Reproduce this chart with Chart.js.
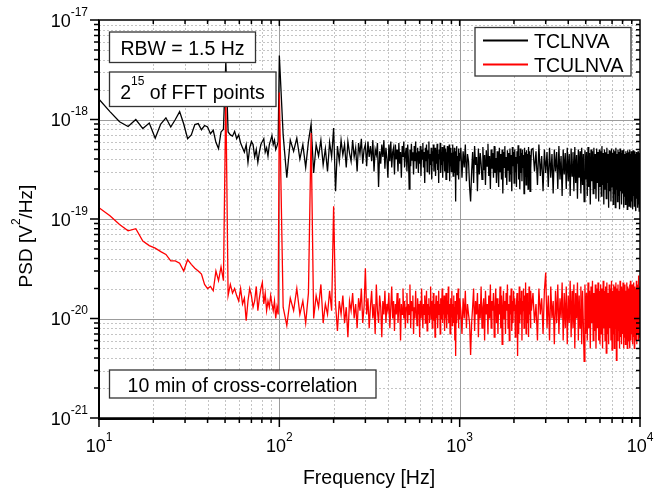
<!DOCTYPE html>
<html>
<head>
<meta charset="utf-8">
<script src="https://cdn.jsdelivr.net/npm/chart.js@4.4.1/dist/chart.umd.min.js"></script>
<style>
  html, body { margin: 0; padding: 0; background: #fff; }
  #wrap { width: 668px; height: 492px; }
</style>
</head>
<body>
<div id="wrap"><canvas id="psd" width="668" height="492"></canvas></div>
<script>
// ---------------------------------------------------------------
//  PSD of TCLNVA / TCULNVA
//  all PSD values are in units of 1e-21 V^2/Hz
// ---------------------------------------------------------------

// frequency bins: 10..100 Hz every 1.5 Hz, then decimated
const lowStartHz = 10,    lowStepHz = 1.5;
const midStartHz = 105,   midStepHz = 5;
const high1StartHz = 1015, high1StepHz = 15;
const high2StartHz = 2550, high2StepHz = 50;

// TCLNVA (black)
const tclnvaLow = [
  1600, 1200, 950, 850, 1000, 810, 920, 650, 900, 1040,
  840, 1000, 1200, 900, 640, 700, 890, 910, 790, 870,
  840, 720, 780, 590, 510, 750, 800, 3800, 750, 700,
  680, 760, 640, 700, 580, 520, 470, 560, 370, 520,
  600, 560, 420, 500, 370, 470, 560, 600, 640, 470,
  520, 430, 560, 620, 690, 560, 620, 500, 540, 600,
  4400
];
const tclnvaMid = [
  700, 260, 620, 480, 650, 400, 560, 330, 600, 900,
  290, 560, 430, 620, 350, 510, 300, 590, 420, 820,
  190, 540, 380, 620, 440, 560, 330, 600, 460, 380,
  620, 420, 520, 300, 580, 450, 640, 360, 500, 560,
  340, 600, 420, 540, 380, 620, 300, 500, 440, 580,
  210, 480, 360, 560, 420, 620, 320, 520, 400, 260,
  560, 380, 600, 330, 470, 520, 280, 560, 400, 500,
  300, 580, 360, 470, 260, 540, 420, 600, 330, 450,
  520, 300, 560, 400, 200, 500, 340, 570, 390, 470,
  280, 540, 380, 600, 320, 460, 520, 290, 480, 360,
  540, 270, 500, 400, 580, 330, 470, 230, 520, 380,
  560, 300, 490, 410, 600, 280, 450, 350, 520, 250,
  480, 380, 560, 300, 460, 520, 270, 490, 360, 570,
  310, 450, 230, 500, 400, 580, 290, 470, 350, 530,
  260, 480, 380, 550, 300, 440, 510, 250, 470, 360,
  540, 290, 450, 380, 560, 240, 480, 340, 520, 300,
  460, 390, 560, 270, 470, 340, 520, 290, 450, 150,
  480, 360, 540, 280, 430, 330, 510, 250, 460, 380
];
const tclnvaHigh1 = [
  520, 260, 480, 330, 560, 240, 450, 380, 210, 150,
  300, 470, 230, 540, 350, 420, 190, 510, 280, 460,
  360, 250, 530, 310, 440, 220, 490, 340, 570, 270,
  430, 200, 500, 320, 460, 260, 540, 290, 410, 230,
  480, 350, 210, 520, 300, 450, 250, 500, 180, 470,
  330, 540, 260, 420, 220, 490, 310, 460, 240, 510,
  280, 440, 190, 530, 340, 470, 230, 500, 300, 420,
  210, 480, 360, 550, 250, 430, 200, 510, 290, 460,
  240, 500, 330, 440, 180, 520, 270, 470, 220, 490,
  310, 450, 200, 530, 260, 480, 190, 440, 320, 500
];
const tclnvaHigh2 = [
  510, 300, 480, 220, 560, 270, 430, 190, 500, 290,
  470, 210, 520, 260, 450, 180, 500, 300, 470, 200,
  540, 250, 430, 170, 500, 280, 460, 200, 520, 240,
  450, 170, 510, 270, 470, 190, 530, 230, 440, 160,
  500, 260, 480, 180, 520, 220, 450, 150, 490, 250,
  470, 170, 530, 210, 460, 140, 500, 240, 480, 180,
  520, 200, 450, 160, 510, 230, 470, 150, 500, 210,
  480, 170, 540, 220, 460, 140, 500, 200, 470, 160,
  520, 230, 450, 130, 490, 190, 480, 150, 510, 210,
  460, 140, 500, 180, 480, 130, 520, 200, 450, 150,
  500, 170, 470, 125, 510, 190, 460, 140, 490, 180,
  470, 130, 500, 170, 450, 140, 480, 190, 460, 125,
  490, 160, 470, 135, 500, 180, 450, 130, 480, 150,
  460, 125, 490, 170, 470, 135, 480, 150, 450, 120,
  470, 160, 460, 130, 480, 140, 450, 120, 460, 130
];

// TCULNVA (red)
const tculnvaLow = [
  130, 108, 88, 76, 80, 60, 54, 51, 47, 44,
  38, 38, 36, 30, 39, 35, 32, 30, 28, 22,
  20, 21, 19, 30, 24, 33, 24, 1800, 17, 22,
  18, 20, 17, 15, 20, 14, 16, 9.5, 15, 20,
  17, 13, 15, 21, 12, 16, 20, 23, 14, 18,
  12, 15, 13, 17, 14, 12, 15, 10, 13, 11,
  1870
];
const tculnvaMid = [
  13, 8.5, 16, 12, 20, 11, 15, 9, 18, 730,
  10, 17, 13, 22, 9, 14, 11, 19, 12, 134,
  14, 7.5, 15, 11, 17, 9, 13, 6.5, 15, 12,
  18, 10, 14, 8, 16, 12, 20, 9, 13, 32,
  11, 16, 8, 13, 19, 10, 14, 7, 22, 12,
  9, 17, 13, 6.5, 15, 11, 19, 9, 14, 12,
  18, 8, 13, 21, 10, 15, 7.5, 14, 11, 18,
  9, 13, 16, 6, 14, 11, 20, 10, 15, 8,
  13, 18, 9, 14, 11, 22, 8, 15, 12, 17,
  7, 13, 10, 19, 12, 8.5, 16, 11, 14, 6.5,
  15, 10, 20, 12, 8, 14, 11, 17, 9, 13,
  19, 7.5, 14, 11, 16, 9, 13, 21, 10, 15,
  8, 12, 18, 9.5, 14, 6.5, 13, 17, 10, 15,
  8, 12, 19, 11, 14, 7, 16, 10, 13, 20,
  9, 14, 11, 17, 7.5, 13, 10, 18, 12, 8,
  15, 11, 21, 9, 14, 12, 7, 16, 10, 13,
  19, 8.5, 14, 11, 17, 9, 13, 6, 15, 4.2,
  12, 18, 9, 14, 11, 20, 8, 13, 10, 16
];
const tculnvaHigh1 = [
  12, 7, 16, 10, 19, 8, 14, 11, 9, 4.3,
  9, 13, 20, 7.5, 15, 11, 18, 6.5, 14, 10,
  21, 8, 13, 16, 6, 19, 11, 14, 7, 17,
  10, 22, 8, 15, 12, 18, 6.5, 13, 20, 9,
  16, 7, 14, 11, 21, 8, 17, 5.5, 13, 19,
  10, 15, 7, 18, 12, 22, 8, 14, 6, 17,
  11, 20, 7.5, 15, 9, 19, 12, 16, 6.5, 13,
  14, 18, 4.2, 15, 7, 21, 9, 16, 11, 19,
  6, 15, 12, 20, 8, 17, 10, 23, 7, 14,
  18, 9, 13, 6.5, 21, 11, 16, 8, 19, 12
];
const tculnvaHigh2 = [
  18, 9, 14, 6, 20, 11, 16, 7, 19, 29,
  8, 17, 6, 21, 10, 15, 5.5, 19, 9, 22,
  7, 16, 10, 23, 6, 18, 8, 21, 5.5, 17,
  9, 24, 6.5, 19, 8, 22, 5, 18, 10, 23,
  6, 17, 8, 21, 5.5, 19, 9, 3.7, 22, 7,
  18, 6, 23, 8, 19, 5, 21, 9, 24, 6,
  18, 7.5, 22, 5, 20, 8, 23, 6, 19, 5.5,
  22, 7, 20, 5, 24, 8, 19, 6, 21, 4.5,
  23, 7, 18, 5.5, 22, 8, 20, 6, 24, 4.8,
  19, 7, 22, 5, 21, 8, 23, 3.8, 20, 6,
  22, 7.5, 19, 5, 24, 6.5, 21, 5.5, 20, 7,
  23, 5, 20, 6.5, 22, 5.5, 19, 7, 23, 5,
  21, 6, 20, 7.5, 22, 5, 24, 6, 19, 7,
  22, 5.5, 20, 6.5, 23, 5, 21, 7, 20, 6,
  24, 5.5, 21, 7, 22, 6, 27, 6.5, 21, 8
];

// axes
const xTickExps = [1, 2, 3, 4];
const yTickExps = [-21, -20, -19, -18, -17];
const seriesNames = ['TCLNVA', 'TCULNVA'];
const seriesColors = ['#000000', '#ff0000'];
const notes = ['RBW = 1.5 Hz', '10 min of cross-correlation'];

// ---------------------------------------------------------------

const FONT = '"Liberation Sans", Arial, Helvetica, sans-serif';

function bins(start, step, vals) {
  return vals.map((v, i) => ({ x: start + i * step, y: v * 1e-21 }));
}

const tclnvaPts = [
  ...bins(lowStartHz, lowStepHz, tclnvaLow),
  ...bins(midStartHz, midStepHz, tclnvaMid),
  ...bins(high1StartHz, high1StepHz, tclnvaHigh1),
  ...bins(high2StartHz, high2StepHz, tclnvaHigh2)
];
const tculnvaPts = [
  ...bins(lowStartHz, lowStepHz, tculnvaLow),
  ...bins(midStartHz, midStepHz, tculnvaMid),
  ...bins(high1StartHz, high1StepHz, tculnvaHigh1),
  ...bins(high2StartHz, high2StepHz, tculnvaHigh2)
];

// draws a list of text runs, some raised (superscripts)
function richText(ctx, runs, x, y, align) {
  let w = 0;
  runs.forEach(r => {
    ctx.font = r.size + 'px ' + FONT;
    r.w = ctx.measureText(r.t).width;
    w += r.w;
  });
  let cx = align === 'center' ? x - w / 2 : align === 'right' ? x - w : x;
  ctx.textAlign = 'left';
  ctx.textBaseline = 'alphabetic';
  runs.forEach(r => {
    ctx.font = r.size + 'px ' + FONT;
    ctx.fillText(r.t, cx, y - (r.rise || 0));
    cx += r.w;
  });
}

function pow10(base, exp, size) {
  return [{ t: base, size: size }, { t: String(exp), size: 12, rise: 11 }];
}

function noteBox(ctx, x0, y0, x1, y1) {
  ctx.fillStyle = '#fff';
  ctx.fillRect(x0, y0, x1 - x0, y1 - y0);
  ctx.strokeStyle = '#333';
  ctx.lineWidth = 1.3;
  ctx.strokeRect(x0, y0, x1 - x0, y1 - y0);
}

const framePlugin = {
  id: 'frame',
  beforeDatasetsDraw(chart) {
    const { ctx, chartArea: a, scales: { x, y } } = chart;
    ctx.save();
    ctx.lineWidth = 1;
    // minor grid
    ctx.strokeStyle = '#c4c4c4';
    ctx.setLineDash([2, 2]);
    ctx.beginPath();
    for (let d = 1; d < 4; d++) {
      for (let m = 2; m < 10; m++) {
        const px = Math.round(x.getPixelForValue(m * Math.pow(10, d))) + 0.5;
        ctx.moveTo(px, a.top); ctx.lineTo(px, a.bottom);
      }
    }
    for (let d = -21; d < -17; d++) {
      for (let m = 2; m < 10; m++) {
        const py = Math.round(y.getPixelForValue(m * Math.pow(10, d))) + 0.5;
        ctx.moveTo(a.left, py); ctx.lineTo(a.right, py);
      }
    }
    ctx.stroke();
    // major grid
    ctx.setLineDash([]);
    ctx.strokeStyle = '#9c9c9c';
    ctx.beginPath();
    xTickExps.slice(1, -1).forEach(e => {
      const px = Math.round(x.getPixelForValue(Math.pow(10, e))) + 0.5;
      ctx.moveTo(px, a.top); ctx.lineTo(px, a.bottom);
    });
    yTickExps.slice(1, -1).forEach(e => {
      const py = Math.round(y.getPixelForValue(Math.pow(10, e))) + 0.5;
      ctx.moveTo(a.left, py); ctx.lineTo(a.right, py);
    });
    ctx.stroke();
    ctx.restore();
  },
  afterDatasetsDraw(chart) {
    const { ctx, chartArea: a, scales: { x, y } } = chart;
    ctx.save();

    // axis frame
    ctx.strokeStyle = '#000';
    ctx.lineWidth = 1.5;
    ctx.strokeRect(a.left, a.top, a.right - a.left, a.bottom - a.top);
    ctx.lineWidth = 2;
    ctx.beginPath();
    ctx.moveTo(a.left, a.top); ctx.lineTo(a.left, a.bottom + 1); ctx.lineTo(a.right + 1, a.bottom);
    ctx.stroke();

    // ticks
    ctx.lineWidth = 1.5;
    ctx.beginPath();
    for (let d = 1; d < 4; d++) {
      for (let m = 1; m < 10; m++) {
        const px = x.getPixelForValue(m * Math.pow(10, d));
        const len = m === 1 ? 9 : 5;
        ctx.moveTo(px, a.bottom); ctx.lineTo(px, a.bottom + len);
        ctx.moveTo(px, a.top); ctx.lineTo(px, a.top + (m === 1 ? 6 : 4));
      }
    }
    const px4 = x.getPixelForValue(1e4);
    ctx.moveTo(px4, a.bottom); ctx.lineTo(px4, a.bottom + 9);
    for (let d = -21; d < -17; d++) {
      for (let m = 1; m < 10; m++) {
        const py = y.getPixelForValue(m * Math.pow(10, d));
        const len = m === 1 ? 9 : 5;
        ctx.moveTo(a.left, py); ctx.lineTo(a.left - len, py);
        ctx.moveTo(a.right, py); ctx.lineTo(a.right - (m === 1 ? 6 : 4), py);
      }
    }
    const py17 = y.getPixelForValue(1e-17);
    ctx.moveTo(a.left, py17); ctx.lineTo(a.left - 9, py17);
    ctx.stroke();

    // tick labels
    ctx.fillStyle = '#000';
    xTickExps.forEach(e => {
      richText(ctx, pow10('10', e, 18), x.getPixelForValue(Math.pow(10, e)), 451.5, 'center');
    });
    yTickExps.forEach(e => {
      richText(ctx, pow10('10', e, 18), 88, y.getPixelForValue(Math.pow(10, e)) + 6.5, 'right');
    });

    // axis titles
    richText(ctx, [{ t: 'Frequency [Hz]', size: 19.5 }], 369, 484, 'center');
    ctx.save();
    ctx.translate(31.5, 236);
    ctx.rotate(-Math.PI / 2);
    richText(ctx, [
      { t: 'PSD [V', size: 19 },
      { t: '2', size: 12, rise: 11.5 },
      { t: '/Hz]', size: 19 }
    ], 0, 0, 'center');
    ctx.restore();

    // annotation boxes
    noteBox(ctx, 109.5, 32, 255.5, 62.5);
    ctx.fillStyle = '#000';
    richText(ctx, [{ t: notes[0], size: 19.5 }], 182.5, 54.5, 'center');

    noteBox(ctx, 109.5, 72, 276, 106.5);
    ctx.fillStyle = '#000';
    richText(ctx, [
      { t: '2', size: 19.5 },
      { t: '15', size: 12, rise: 14 },
      { t: ' of FFT points', size: 19.5 }
    ], 192.5, 99, 'center');

    noteBox(ctx, 109.5, 370, 376, 398);
    ctx.fillStyle = '#000';
    richText(ctx, [{ t: notes[1], size: 19.5 }], 242.5, 391.5, 'center');

    // legend
    noteBox(ctx, 475, 27.5, 631, 76);
    ctx.lineWidth = 2;
    seriesNames.forEach((name, i) => {
      const ly = 40.5 + i * 24;
      ctx.strokeStyle = seriesColors[i];
      ctx.beginPath();
      ctx.moveTo(483, ly); ctx.lineTo(528, ly);
      ctx.stroke();
      ctx.fillStyle = '#000';
      richText(ctx, [{ t: name, size: 19.5 }], 534, ly + 7.2, 'left');
    });

    ctx.restore();
  }
};

new Chart(document.getElementById('psd'), {
  type: 'line',
  data: {
    datasets: [
      {
        label: seriesNames[1],
        data: tculnvaPts,
        borderColor: seriesColors[1],
        borderWidth: 1.3,
        pointRadius: 0,
        tension: 0,
        order: 0
      },
      {
        label: seriesNames[0],
        data: tclnvaPts,
        borderColor: seriesColors[0],
        borderWidth: 1.3,
        pointRadius: 0,
        tension: 0,
        order: 1
      }
    ]
  },
  options: {
    responsive: false,
    animation: false,
    devicePixelRatio: 1,
    layout: { padding: { top: 20, right: 28, bottom: 0, left: 0 } },
    plugins: {
      legend: { display: false },
      tooltip: { enabled: false }
    },
    scales: {
      x: {
        type: 'logarithmic',
        min: 10,
        max: 10000,
        ticks: { display: false },
        grid: { display: false },
        border: { display: false },
        afterFit: s => { s.height = 74; }
      },
      y: {
        type: 'logarithmic',
        min: 1e-21,
        max: 1e-17,
        ticks: { display: false },
        grid: { display: false },
        border: { display: false },
        afterFit: s => { s.width = 99; }
      }
    }
  },
  plugins: [framePlugin]
});
</script>
</body>
</html>
